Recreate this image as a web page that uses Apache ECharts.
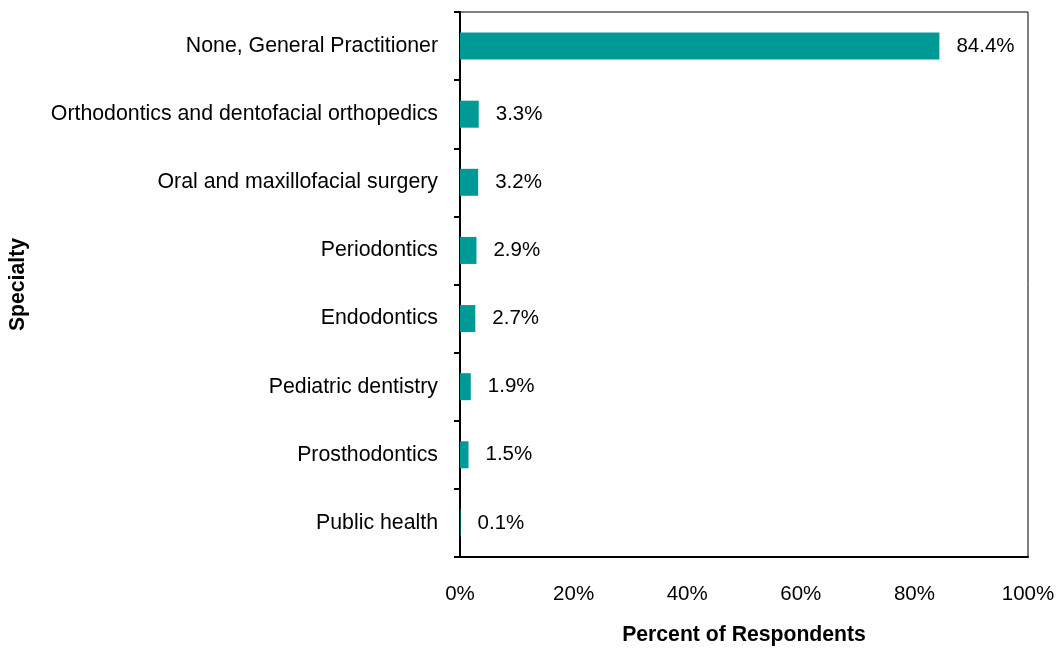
<!DOCTYPE html>
<html>
<head>
<meta charset="utf-8">
<script src="https://cdn.jsdelivr.net/npm/echarts@6/dist/echarts.min.js"></script>
<style>
html, body { margin: 0; padding: 0; background: #fff; }
#chart { width: 1057px; height: 649px; }
</style>
</head>
<body>
<div id="chart"></div>
<script>
var specialties = [
    'None, General Practitioner',
    'Orthodontics and dentofacial orthopedics',
    'Oral and maxillofacial surgery',
    'Periodontics',
    'Endodontics',
    'Pediatric dentistry',
    'Prosthodontics',
    'Public health'
];
var percents = [84.4, 3.3, 3.2, 2.9, 2.7, 1.9, 1.5, 0.1];

var font = 'Liberation Sans, Arial, sans-serif';

var myChart = echarts.init(document.getElementById('chart'));

var option = {
    backgroundColor: '#ffffff',
    animation: false,
    grid: {
        left: 460,
        top: 12,
        right: 29,
        bottom: 92,
        containLabel: false,
        outerBoundsMode: 'none',
        show: true,
        borderColor: '#000',
        borderWidth: 1,
        backgroundColor: 'transparent'
    },
    xAxis: {
        type: 'value',
        min: 0,
        max: 100,
        interval: 20,
        name: 'Percent of Respondents',
        nameLocation: 'middle',
        nameGap: 68,
        nameTextStyle: { fontFamily: font, fontSize: 21.2, fontWeight: 'bold', color: '#000' },
        axisLine: { show: true, lineStyle: { color: '#000', width: 2 } },
        axisTick: { show: false },
        splitLine: { show: false },
        axisLabel: {
            formatter: '{value}%',
            margin: 27,
            fontFamily: font,
            fontSize: 20.5,
            color: '#000'
        }
    },
    yAxis: {
        type: 'category',
        data: specialties,
        inverse: true,
        name: 'Specialty',
        nameLocation: 'middle',
        nameGap: 431,
        nameRotate: 90,
        nameTextStyle: { fontFamily: font, fontSize: 21.2, fontWeight: 'bold', color: '#000' },
        axisLine: { show: true, lineStyle: { color: '#000', width: 2 } },
        axisTick: { show: true, inside: false, length: 6, lineStyle: { color: '#000', width: 2 } },
        axisLabel: {
            margin: 22,
            fontFamily: font,
            fontSize: 21.3,
            color: '#000'
        }
    },
    series: [{
        type: 'bar',
        data: percents,
        barWidth: 27,
        itemStyle: { color: '#009A96' },
        label: {
            show: true,
            position: 'right',
            distance: 17,
            formatter: function (p) { return p.value.toFixed(1) + '%'; },
            fontFamily: font,
            fontSize: 20.5,
            color: '#000'
        }
    }]
};

myChart.setOption(option);
</script>
</body>
</html>
